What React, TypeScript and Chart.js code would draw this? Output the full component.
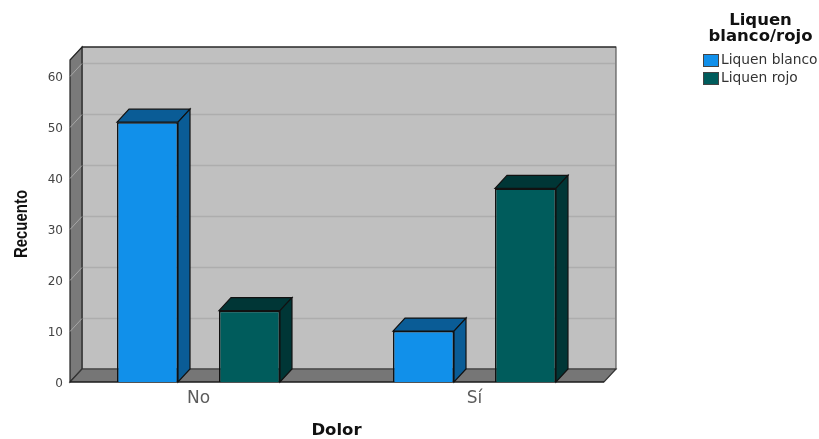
import { useEffect, useRef } from "react";
import { Chart, registerables } from "chart.js";

Chart.register(...registerables);

const categories = ["No", "Sí"];
const liquenBlanco = [51, 10];
const liquenRojo = [14, 38];
const seriesNames = ["Liquen blanco", "Liquen rojo"];
const legendTitle = ["Liquen", "blanco/rojo"];
const frontColors = ["#1190ea", "#005c5c"];
const sideColors = ["#0a5c96", "#003636"];
const topColors = ["#0a5c96", "#003636"];

const DEPTH_X = 12;
const DEPTH_Y = 13;
const INSET_LEFT = 9.5;
const INSET_RIGHT = 8.5;

function polygon(ctx: CanvasRenderingContext2D, pts: number[][], fill: string, stroke: string) {
  ctx.beginPath();
  pts.forEach(([x, y], i) => (i ? ctx.lineTo(x, y) : ctx.moveTo(x, y)));
  ctx.closePath();
  ctx.fillStyle = fill;
  ctx.fill();
  ctx.strokeStyle = stroke;
  ctx.lineWidth = 1.2;
  ctx.stroke();
}

// Back wall, side wall, floor and the grid lines that run across them.
const wallsPlugin = {
  id: "walls",
  beforeDatasetsDraw(chart: any) {
    const { ctx, chartArea: a, scales } = chart;
    const l = a.left + INSET_LEFT;
    const r = a.right - INSET_RIGHT;
    ctx.save();
    polygon(ctx, [[l + DEPTH_X, a.top - DEPTH_Y], [r + DEPTH_X, a.top - DEPTH_Y], [r + DEPTH_X, a.bottom - DEPTH_Y], [l + DEPTH_X, a.bottom - DEPTH_Y]], "#c0c0c0", "#5a5a5a");
    polygon(ctx, [[l, a.top], [l + DEPTH_X, a.top - DEPTH_Y], [l + DEPTH_X, a.bottom - DEPTH_Y], [l, a.bottom]], "#7a7a7a", "#222222");
    polygon(ctx, [[l, a.bottom], [l + DEPTH_X, a.bottom - DEPTH_Y], [r + DEPTH_X, a.bottom - DEPTH_Y], [r, a.bottom]], "#767676", "#333333");
    ctx.beginPath();
    ctx.moveTo(l + DEPTH_X, a.top - DEPTH_Y);
    ctx.lineTo(r + DEPTH_X, a.top - DEPTH_Y);
    ctx.moveTo(l, a.bottom);
    ctx.lineTo(r, a.bottom);
    ctx.strokeStyle = "#111111";
    ctx.stroke();
    const y = scales.y;
    y.ticks.forEach((t: any) => {
      if (t.value === 0) return;
      const py = Math.round(y.getPixelForValue(t.value)) + 0.5;
      ctx.beginPath();
      ctx.moveTo(l + DEPTH_X + 1, py - DEPTH_Y);
      ctx.lineTo(r + DEPTH_X - 1, py - DEPTH_Y);
      ctx.strokeStyle = "#adadad";
      ctx.lineWidth = 1.5;
      ctx.stroke();
      ctx.beginPath();
      ctx.moveTo(l, py);
      ctx.lineTo(l + DEPTH_X, py - DEPTH_Y);
      ctx.strokeStyle = "#a6a6a6";
      ctx.lineWidth = 1;
      ctx.stroke();
    });
    ctx.restore();
  },
  // Top and side faces that give each bar its depth.
  afterDatasetsDraw(chart: any) {
    const { ctx } = chart;
    ctx.save();
    chart.data.datasets.forEach((_: any, di: number) => {
      chart.getDatasetMeta(di).data.forEach((bar: any) => {
        const { x, y, width, base } = bar.getProps(["x", "y", "width", "base"], true);
        const l = x - width / 2;
        const r = x + width / 2;
        polygon(ctx, [[l, y], [l + DEPTH_X, y - DEPTH_Y], [r + DEPTH_X, y - DEPTH_Y], [r, y]], topColors[di], "#111111");
        polygon(ctx, [[r, y], [r + DEPTH_X, y - DEPTH_Y], [r + DEPTH_X, base - DEPTH_Y], [r, base]], sideColors[di], "#111111");
      });
    });
    ctx.restore();
  },
  // Legend block in the upper right corner and the rotated value-axis title.
  afterDraw(chart: any) {
    const { ctx } = chart;
    ctx.save();
    ctx.textBaseline = "middle";
    ctx.textAlign = "center";
    ctx.fillStyle = "#111111";
    ctx.font = "bold 16.5px 'DejaVu Sans'";
    legendTitle.forEach((line, i) => ctx.fillText(line, 760.5, 20.5 + i * 16));
    ctx.textAlign = "left";
    ctx.font = "13.8px 'DejaVu Sans'";
    seriesNames.forEach((name, i) => {
      const y = 54 + i * 17.5;
      ctx.fillStyle = frontColors[i];
      ctx.strokeStyle = "#444444";
      ctx.lineWidth = 1;
      ctx.fillRect(703.5, Math.round(y) + 0.5, 15, 12);
      ctx.strokeRect(703.5, Math.round(y) + 0.5, 15, 12);
      ctx.fillStyle = "#333333";
      ctx.fillText(name, 721, y + 6.5);
    });
    ctx.translate(22.5, 224);
    ctx.rotate(-Math.PI / 2);
    ctx.scale(0.83, 1);
    ctx.textAlign = "center";
    ctx.fillStyle = "#111111";
    ctx.font = "bold 18px 'Liberation Sans'";
    ctx.fillText("Recuento", 0, 0);
    ctx.restore();
  },
};

export default function App() {
  const ref = useRef<HTMLCanvasElement>(null);

  useEffect(() => {
    const chart = new Chart(ref.current as HTMLCanvasElement, {
      type: "bar",
      data: {
        labels: categories,
        datasets: [liquenBlanco, liquenRojo].map((values, i) => ({
          label: seriesNames[i],
          data: values,
          backgroundColor: frontColors[i],
          borderColor: "#111111",
          borderWidth: 1.5,
          categoryPercentage: 0.739,
          barPercentage: 0.598,
        })),
      },
      options: {
        animation: false,
        responsive: false,
        layout: { padding: { top: 60, left: 0, right: 206.5, bottom: 0 } },
        plugins: { legend: { display: false }, tooltip: { enabled: false } },
        scales: {
          x: {
            grid: { display: false },
            border: { display: false },
            ticks: { color: "#5c5c5c", font: { family: "DejaVu Sans", size: 17 }, padding: -2, maxRotation: 0 },
            title: { display: true, text: "Dolor", color: "#111111", font: { family: "DejaVu Sans", size: 16.5, weight: "bold" }, padding: { top: 10, bottom: -2 } },
            afterFit(scale: any) {
              scale.height = 57;
            },
          },
          y: {
            min: 0,
            max: 63.2,
            grid: { display: false },
            border: { display: false },
            ticks: { stepSize: 10, color: "#444444", font: { family: "DejaVu Sans", size: 12 }, padding: -10.5, labelOffset: 2 },
            afterBuildTicks(scale: any) {
              scale.ticks = scale.ticks.filter((t: any) => t.value % 10 === 0);
            },
            afterFit(scale: any) {
              scale.width = 60.5;
              // The labels sit slightly inside the plot edge, so they must not be cut at the axis box.
              scale._computeLabelArea = () => undefined;
            },
          },
        },
      },
      plugins: [wallsPlugin],
    } as any);
    return () => chart.destroy();
  }, []);

  return (
    <div style={{ position: "absolute", left: 0, top: 0, width: 819, height: 439, background: "#ffffff" }}>
      <canvas ref={ref} width={819} height={439} style={{ display: "block" }} />
    </div>
  );
}
